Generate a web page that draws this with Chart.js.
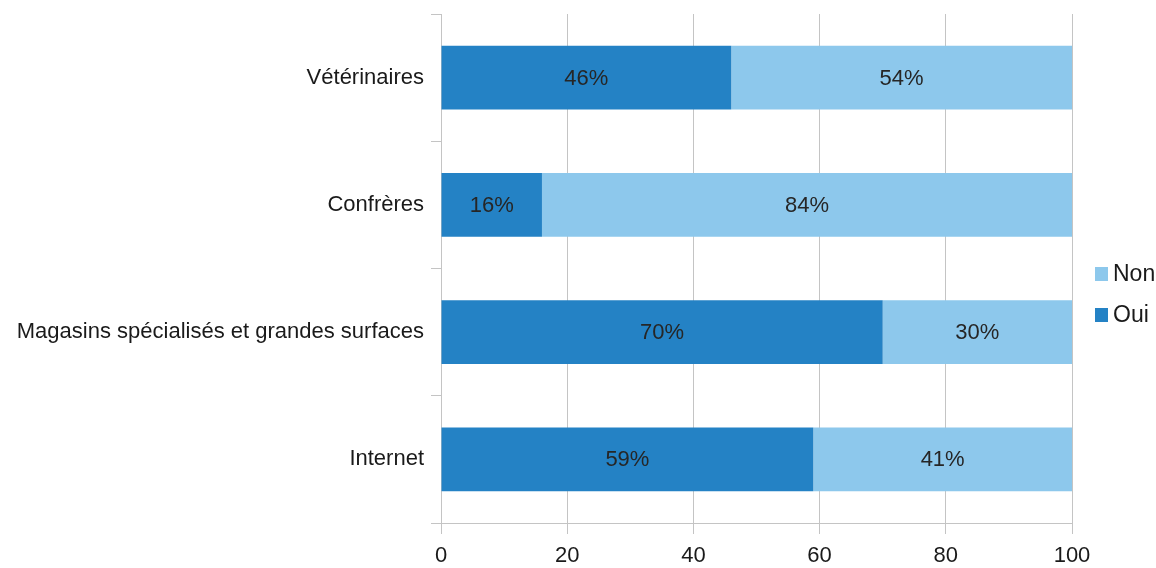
<!DOCTYPE html>
<html>
<head>
<meta charset="utf-8">
<script src="https://cdn.jsdelivr.net/npm/chart.js@4/dist/chart.umd.min.js"></script>
<style>
  body { margin: 0; background: #fff; }
  #wrap { width: 1156px; height: 568px; }
</style>
</head>
<body>
<div id="wrap"><canvas id="chart"></canvas></div>
<script>
// Data
const categories = ['Vétérinaires', 'Confrères', 'Magasins spécialisés et grandes surfaces', 'Internet'];
const ouiValues = [46, 16, 70, 59];
const nonValues = [54, 84, 30, 41];
const xTicks = [0, 20, 40, 60, 80, 100];

const FONT = '"Liberation Sans", Arial, sans-serif';
const FS = 22;

// Percent labels in the middle of each bar segment
const barLabels = {
  id: 'barLabels',
  afterDatasetsDraw(chart) {
    const ctx = chart.ctx;
    ctx.save();
    ctx.font = FS + 'px ' + FONT;
    ctx.fillStyle = '#262626';
    ctx.textAlign = 'center';
    ctx.textBaseline = 'middle';
    chart.data.datasets.forEach((ds, i) => {
      chart.getDatasetMeta(i).data.forEach((bar, j) => {
        const p = bar.getProps(['x', 'y', 'base'], true);
        ctx.fillText(ds.data[j] + '%', (p.x + p.base) / 2, p.y + 1);
      });
    });
    ctx.restore();
  }
};

// Legend on the right, Non above Oui
const sideLegend = {
  id: 'sideLegend',
  afterDraw(chart) {
    const ctx = chart.ctx;
    const items = chart.data.datasets.slice().reverse();
    const x = chart.chartArea.right + 23;
    let y = 274;
    ctx.save();
    ctx.font = '23px ' + FONT;
    ctx.textBaseline = 'middle';
    items.forEach(ds => {
      ctx.fillStyle = ds.backgroundColor;
      ctx.fillRect(x, y - 7, 13, 14);
      ctx.fillStyle = '#1a1a1a';
      ctx.fillText(ds.label, x + 18, y + 1);
      y += 41;
    });
    ctx.restore();
  }
};

new Chart(document.getElementById('chart'), {
  type: 'bar',
  data: {
    labels: categories,
    datasets: [
      { label: 'Oui', data: ouiValues, backgroundColor: '#2482c5' },
      { label: 'Non', data: nonValues, backgroundColor: '#8dc8ec' }
    ]
  },
  options: {
    indexAxis: 'y',
    responsive: true,
    maintainAspectRatio: false,
    animation: false,
    layout: { padding: { top: 14, right: 84, left: 0, bottom: 0 } },
    datasets: { bar: { barPercentage: 0.5, categoryPercentage: 1 } },
    plugins: { legend: { display: false }, tooltip: { enabled: false } },
    scales: {
      x: {
        stacked: true,
        min: 0,
        max: 100,
        afterBuildTicks: scale => { scale.ticks = xTicks.map(v => ({ value: v })); },
        afterFit: scale => { scale.height = 45; scale.paddingLeft = 0; scale.paddingRight = 0; },
        grid: { color: '#c4c4c4', tickLength: 11 },
        border: { color: '#c4c4c4' },
        ticks: { font: { family: FONT, size: FS }, color: '#1a1a1a', padding: 9 }
      },
      y: {
        stacked: true,
        afterFit: scale => { scale.width = 441; scale.paddingTop = 0; scale.paddingBottom = 0; },
        grid: { offset: true, drawOnChartArea: false, color: '#c4c4c4', tickLength: 10 },
        border: { color: '#c4c4c4' },
        ticks: { font: { family: FONT, size: FS }, color: '#1a1a1a', padding: 7 }
      }
    }
  },
  plugins: [barLabels, sideLegend]
});
</script>
</body>
</html>
